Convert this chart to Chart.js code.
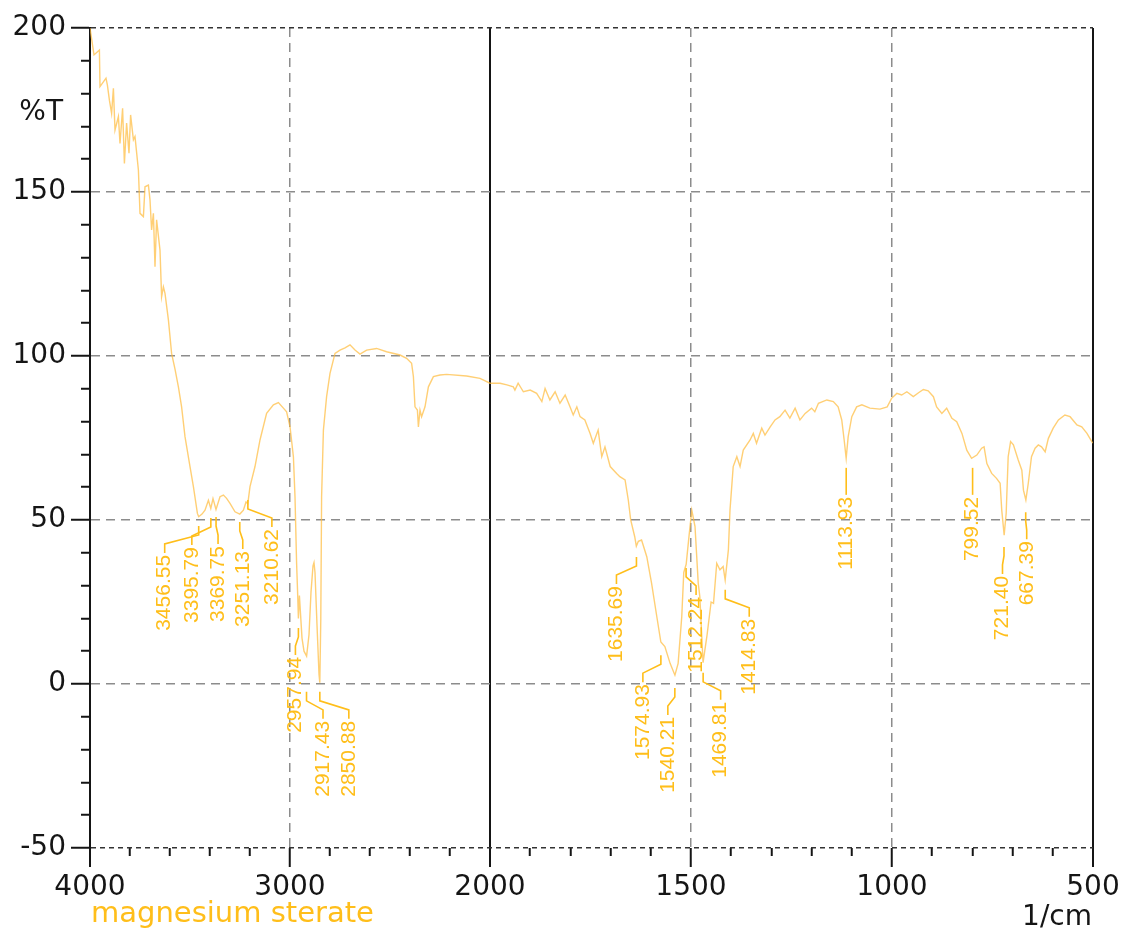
<!DOCTYPE html>
<html>
<head>
<meta charset="utf-8">
<title>magnesium sterate – IR spectrum</title>
<script src="https://cdn.jsdelivr.net/npm/chart.js@4.4.1/dist/chart.umd.min.js"></script>
<style>
  html, body { margin: 0; padding: 0; background: #ffffff; }
  #wrap { width: 1124px; height: 932px; }
</style>
</head>
<body>
<div id="wrap"><canvas id="spectrum" width="1124" height="932"></canvas></div>
<script>
// ---- spectrum data: wavenumber (1/cm) and transmittance (%T) ----
const wavenumbers = [
  4000, 3980, 3953, 3950, 3920, 3913, 3903, 3892, 3883, 3875, 3858, 3850, 3837, 3828, 3817, 3805,
  3797, 3783, 3775, 3758, 3750, 3733, 3725, 3708, 3700, 3692, 3683, 3675, 3667, 3650, 3642, 3633,
  3625, 3608, 3592, 3575, 3558, 3542, 3525, 3500, 3483, 3463, 3456.55, 3440, 3425, 3408, 3396, 3385,
  3370, 3350, 3333, 3317, 3300, 3275, 3251, 3233, 3220, 3211, 3200, 3175, 3150, 3117, 3083, 3058,
  3033, 3017, 3000, 2983, 2975, 2967, 2962, 2958, 2953, 2948, 2940, 2930, 2917, 2905, 2895, 2885,
  2880, 2875, 2865, 2855, 2851, 2846, 2842, 2833, 2817, 2800, 2775, 2750, 2725, 2700, 2675, 2650,
  2617, 2567, 2517, 2450, 2417, 2392, 2383, 2375, 2363, 2358, 2350, 2342, 2325, 2308, 2283, 2250,
  2217, 2117, 2050, 2000, 1975, 1958, 1942, 1938, 1930, 1917, 1900, 1884, 1871, 1863, 1851, 1838,
  1826, 1813, 1801, 1793, 1784, 1776, 1764, 1751, 1743, 1731, 1722, 1714, 1701, 1685, 1677, 1664,
  1656, 1650, 1640, 1636, 1631, 1623, 1610, 1598, 1585, 1575, 1565, 1552, 1540, 1532, 1523, 1518,
  1512, 1505, 1498, 1490, 1482, 1478, 1470, 1460, 1450, 1444, 1436, 1428, 1420, 1415, 1407, 1403,
  1395, 1386, 1378, 1370, 1353, 1345, 1337, 1324, 1316, 1303, 1291, 1279, 1266, 1254, 1241, 1229,
  1216, 1200, 1192, 1183, 1162, 1146, 1134, 1125, 1119, 1114, 1109, 1100, 1088, 1075, 1055, 1030,
  1012, 1001, 988, 976, 963, 947, 934, 922, 910, 897, 889, 876, 864, 851, 839, 826,
  814, 802, 789, 777, 771, 764, 752, 740, 731, 727, 721, 716, 711, 705, 698, 686,
  677, 673, 667, 661, 653, 644, 636, 628, 619, 611, 599, 586, 570, 557, 540, 528,
  515, 503, 500
];
const transmittance = [
  200.0, 191.8, 193.3, 182.1, 184.7, 182.6, 178.0, 174.0, 181.6, 168.9, 173.0, 164.8, 175.5, 158.7, 171.0, 161.8,
  173.5, 165.9, 166.9, 156.7, 143.5, 142.5, 151.6, 152.1, 147.6, 138.4, 143.5, 127.2, 141.5, 132.3, 118.1, 121.1,
  119.1, 111.0, 100.8, 96.0, 90.6, 84.5, 75.4, 66.3, 60.2, 52.0, 51.0, 51.8, 53.0, 56.0, 53.5, 56.5,
  53.2, 57.1, 57.6, 56.6, 55.1, 52.5, 51.8, 53.0, 55.5, 55.0, 60.2, 66.3, 74.4, 82.5, 85.1, 85.8,
  84.1, 83.0, 78.5, 69.3, 57.1, 36.8, 28.0, 20.0, 27.0, 22.0, 14.0, 10.0, 8.5, 15.0, 28.0, 36.0,
  37.0, 34.0, 18.0, 3.0, 0.4, 20.0, 57.0, 77.4, 87.6, 94.7, 100.8, 101.8, 102.5, 103.4, 101.8, 100.6,
  101.8, 102.3, 101.3, 100.3, 99.3, 97.8, 93.7, 84.5, 83.5, 78.4, 83.5, 81.5, 84.5, 90.6, 93.7, 94.2,
  94.4, 93.9, 93.2, 91.7, 91.7, 91.2, 90.6, 89.6, 91.7, 89.1, 89.6, 88.6, 86.1, 90.1, 86.6, 89.1,
  85.6, 88.1, 84.5, 82.0, 84.5, 81.5, 80.5, 76.4, 73.4, 77.4, 69.3, 72.3, 66.3, 64.2, 63.2, 62.2,
  56.1, 50.0, 44.9, 42.0, 43.5, 43.9, 38.8, 30.7, 20.5, 12.8, 11.4, 6.3, 2.7, 6.3, 20.5, 34.0,
  36.5, 45.0, 53.0, 48.0, 30.7, 26.6, 6.5, 15.0, 25.0, 24.6, 36.8, 34.8, 35.8, 31.7, 40.9, 53.0,
  66.3, 69.3, 66.3, 71.3, 74.4, 76.4, 73.4, 78.0, 75.9, 78.4, 80.5, 81.5, 83.5, 81.1, 84.1, 80.5,
  82.5, 84.1, 83.0, 85.6, 86.6, 86.1, 84.5, 80.5, 74.4, 68.8, 75.4, 81.5, 84.5, 85.1, 84.1, 83.8,
  84.5, 87.1, 88.6, 88.1, 89.1, 87.6, 88.8, 89.8, 89.4, 87.6, 84.5, 82.5, 84.1, 81.0, 80.0, 76.4,
  71.3, 68.8, 69.8, 71.9, 72.3, 67.2, 64.2, 62.7, 61.2, 53.0, 45.4, 52.0, 69.3, 73.9, 72.9, 68.3,
  65.2, 59.1, 56.1, 61.2, 69.3, 71.9, 72.9, 72.3, 70.8, 74.9, 78.0, 80.5, 82.0, 81.5, 79.0, 78.4,
  76.4, 73.9, 73.5
];

// ---- marked absorption bands (1/cm) ----
const peakWavenumbers = [
  3456.55, 3395.79, 3369.75, 3251.13, 3210.62, 2957.94, 2917.43, 2850.88,
  1635.69, 1574.93, 1540.21, 1512.24, 1469.81, 1414.83, 1113.93, 799.52, 721.40, 667.39
];

// ---- axis labels ----
const xTickLabels = [4000, 3000, 2000, 1500, 1000, 500];
const yTickLabels = [-50, 0, 50, 100, 150, 200];
const yAxisTitle = '%T';
const xAxisTitle = '1/cm';
const sampleName = 'magnesium sterate';

// ---- layout of the band annotations: where each leader starts (%T) and text offset (px) ----
const leaderStart = [48.2, 50.6, 50.9, 49.4, 56.1, 17.1, -2.4, -2.4,
                     38.7, 8.8, -1.2, 35.4, 3.4, 28.7, 65.9, 65.9, 41.8, 52.4];
const labelShift  = [-34, -19, 2, 3, 24, -3, 16.5, 29,
                     -20, -18, -7, 10, 17.5, 24, 0, 0, -1.5, 1];

// ---- styling ----
const GOLD = '#FFBE1A';
const CURVE = 'rgba(255, 188, 64, 0.72)';
const INK = '#151515';
const TICK_FONT = { family: '"DejaVu Sans", sans-serif', size: 28 };

// Wavenumber axis with a scale change at 2000 1/cm:
// 4000–2000 takes the left 400/1003 of the width, 2000–500 the rest.
const WN_HIGH = 4000, WN_BREAK = 2000, WN_LOW = 500;
const HIGH_SHARE = 400 / 1003;

const xTickValues = [];
for (let w = WN_HIGH; w > WN_BREAK; w -= 200) xTickValues.push(w);
for (let w = WN_BREAK; w >= WN_LOW; w -= 100) xTickValues.push(w);
const yTickValues = [];
for (let v = -50; v <= 200; v += 10) yTickValues.push(v);

class BrokenWavenumberScale extends Chart.LinearScale {
  fractionFor(v) {
    return v >= WN_BREAK
      ? HIGH_SHARE * (WN_HIGH - v) / (WN_HIGH - WN_BREAK)
      : HIGH_SHARE + (1 - HIGH_SHARE) * (WN_BREAK - v) / (WN_BREAK - WN_LOW);
  }
  getPixelForValue(v) {
    return this.left + this.fractionFor(v) * this.width;
  }
  getValueForPixel(p) {
    const f = (p - this.left) / this.width;
    return f <= HIGH_SHARE
      ? WN_HIGH - (f / HIGH_SHARE) * (WN_HIGH - WN_BREAK)
      : WN_BREAK - ((f - HIGH_SHARE) / (1 - HIGH_SHARE)) * (WN_BREAK - WN_LOW);
  }
  buildTicks() {
    this.start = this.max;
    this.end = this.min;
    return xTickValues.map(v => ({ value: v }));
  }
}
BrokenWavenumberScale.id = 'brokenWavenumber';
BrokenWavenumberScale.defaults = {};
Chart.register(BrokenWavenumberScale);

const isMajorX = v => xTickLabels.includes(v);
const isMajorY = v => v % 50 === 0;

// Band position labels: leader line bent towards the rotated value text.
const bandLabels = {
  id: 'bandLabels',
  afterDatasetsDraw(chart) {
    const { ctx, scales: { x, y } } = chart;
    ctx.save();
    ctx.strokeStyle = GOLD;
    ctx.fillStyle = GOLD;
    ctx.lineWidth = 1.6;
    ctx.font = '21px "Liberation Sans", Arial, sans-serif';
    peakWavenumbers.forEach((w, i) => {
      const px = x.getPixelForValue(w);
      const top = y.getPixelForValue(leaderStart[i]);
      const tx = px + labelShift[i];
      ctx.beginPath();
      ctx.moveTo(px, top);
      ctx.lineTo(px, top + 9);
      ctx.lineTo(tx, top + 18);
      ctx.lineTo(tx, top + 27);
      ctx.stroke();
      ctx.save();
      ctx.translate(tx, top + 29);
      ctx.rotate(-Math.PI / 2);
      ctx.textAlign = 'right';
      ctx.textBaseline = 'middle';
      ctx.fillText(w.toFixed(2), 0, 0);
      ctx.restore();
    });
    ctx.restore();
  }
};

// Axis titles and sample name.
const captions = {
  id: 'captions',
  afterDraw(chart) {
    const { ctx, chartArea } = chart;
    ctx.save();
    ctx.textBaseline = 'alphabetic';
    ctx.font = '28px "DejaVu Sans", sans-serif';
    ctx.fillStyle = INK;
    ctx.textAlign = 'right';
    ctx.fillText(yAxisTitle, chartArea.left - 27, 120);
    ctx.fillText(xAxisTitle, chartArea.right - 1, 925);
    ctx.textAlign = 'left';
    ctx.fillStyle = GOLD;
    ctx.font = '29px "DejaVu Sans", sans-serif';
    ctx.fillText(sampleName, chartArea.left + 1, 922);
    ctx.restore();
  }
};

new Chart(document.getElementById('spectrum'), {
  type: 'line',
  data: {
    datasets: [{
      data: wavenumbers.map((w, i) => ({ x: w, y: transmittance[i] })),
      borderColor: CURVE,
      borderWidth: 1.4,
      pointRadius: 0,
      tension: 0,
      fill: false
    }]
  },
  options: {
    responsive: false,
    animation: false,
    layout: { padding: { top: 28, right: 31, bottom: 0, left: 0 } },
    plugins: { legend: { display: false }, tooltip: { enabled: false } },
    scales: {
      x: {
        type: 'brokenWavenumber',
        min: WN_LOW,
        max: WN_HIGH,
        afterFit: s => { s.height = 84; },
        ticks: {
          autoSkip: false,
          maxRotation: 0,
          minRotation: 0,
          padding: 4,
          color: INK,
          font: TICK_FONT,
          callback: v => (isMajorX(v) ? String(v) : '')
        },
        grid: {
          color: c => {
            const v = c.tick && c.tick.value;
            if (v === 4000 || v === 2000 || v === 500) return INK;
            if (v === 3000 || v === 1500 || v === 1000) return '#8c8c8c';
            return 'rgba(0,0,0,0)';
          },
          lineWidth: c => {
            const v = c.tick && c.tick.value;
            return (v === 4000 || v === 2000 || v === 500) ? 2 : 1.5;
          },
          tickLength: 19,
          tickColor: INK,
          tickWidth: 2,
          tickBorderDash: c => (c.tick && isMajorX(c.tick.value) ? [] : [8, 40])
        },
        border: {
          display: false,
          dash: c => {
            const v = c.tick && c.tick.value;
            return (v === 3000 || v === 1500 || v === 1000) ? [9, 6] : [];
          }
        }
      },
      y: {
        min: -50,
        max: 200,
        afterFit: s => { s.width = 90; },
        afterBuildTicks: s => { s.ticks = yTickValues.map(v => ({ value: v })); },
        ticks: {
          autoSkip: false,
          padding: 5,
          color: INK,
          font: TICK_FONT,
          callback: v => (yTickLabels.includes(v) ? String(v) : '')
        },
        grid: {
          color: c => {
            const v = c.tick && c.tick.value;
            if (v === 200 || v === -50) return '#333333';
            return isMajorY(v) ? '#8c8c8c' : 'rgba(0,0,0,0)';
          },
          lineWidth: 1.5,
          tickLength: 19,
          tickColor: INK,
          tickWidth: 2,
          tickBorderDash: c => (c.tick && isMajorY(c.tick.value) ? [] : [9, 10]),
          tickBorderDashOffset: c => (c.tick && isMajorY(c.tick.value) ? 0 : 9)
        },
        border: {
          display: true,
          color: INK,
          width: 2,
          dash: c => {
            const v = c.tick && c.tick.value;
            return (v === 200 || v === -50) ? [5, 4] : [9, 6];
          }
        }
      }
    }
  },
  plugins: [bandLabels, captions]
});
</script>
</body>
</html>
